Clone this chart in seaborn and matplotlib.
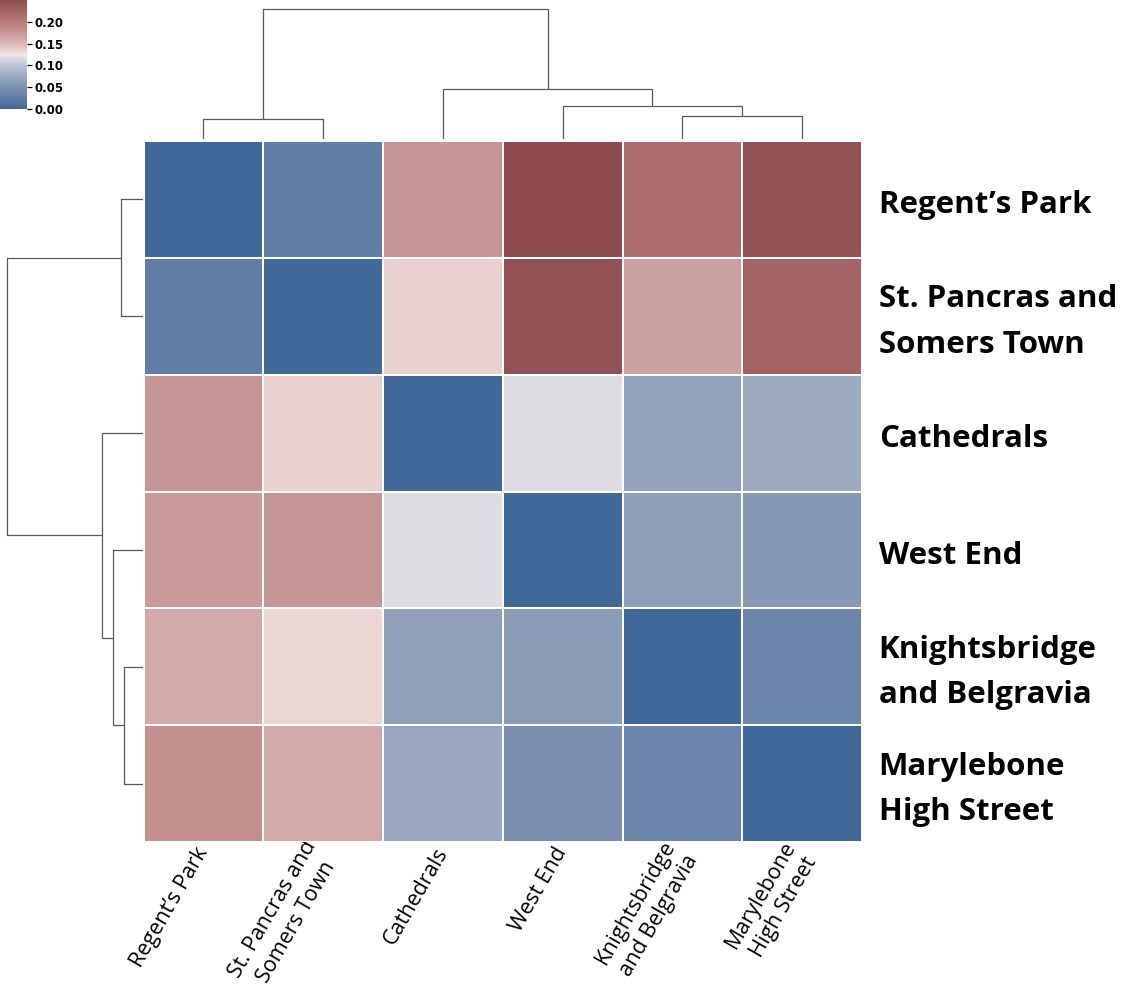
import numpy as np
import pandas as pd
import matplotlib
matplotlib.use("Agg")
import matplotlib.pyplot as plt
import seaborn as sns
import colorsys
from matplotlib.colors import ListedColormap

names = ["Regent’s Park", "St. Pancras and\nSomers Town", "Cathedrals",
         "West End", "Knightsbridge\nand Belgravia", "Marylebone\nHigh Street"]

row_regents = [0.000, 0.026, 0.177, 0.250, 0.213, 0.245]
row_pancras = [0.026, 0.000, 0.135, 0.245, 0.167, 0.224]
row_cathedrals = [0.177, 0.135, 0.000, 0.117, 0.068, 0.078]
row_westend = [0.172, 0.177, 0.117, 0.000, 0.065, 0.057]
row_knights = [0.161, 0.132, 0.066, 0.062, 0.000, 0.036]
row_marylebone = [0.182, 0.161, 0.073, 0.047, 0.036, 0.000]

# dendrogram merges: (left, right, height, size)
row_merges = [[4, 5, 0.139, 2], [0, 1, 0.165, 2], [3, 6, 0.224, 3],
              [2, 8, 0.305, 4], [7, 9, 1.000, 6]]
col_merges = [[0, 1, 0.151, 2], [4, 5, 0.176, 2], [3, 7, 0.249, 3],
              [2, 8, 0.380, 4], [6, 9, 1.000, 6]]

df = pd.DataFrame([row_regents, row_pancras, row_cathedrals, row_westend,
                   row_knights, row_marylebone],
                  index=range(6), columns=range(6))

# muted vlag colormap
vlag = plt.get_cmap("vlag")
cols = []
for i in range(256):
    u = 2 * i / 255 - 1
    tt = 0.5 + 0.5 * np.sign(u) * abs(u) ** 0.8
    r, gg, b, _ = vlag(tt)
    h, l, s = colorsys.rgb_to_hls(r, gg, b)
    s *= 0.6 + 0.25 * (1 - abs(u))
    l = l - 0.06 * l * l
    cols.append(colorsys.hls_to_rgb(h, l, s))
cmap = ListedColormap(cols)

sns.set_theme(style="white")
W, H = 1123, 1000
g = sns.clustermap(df, row_linkage=np.array(row_merges, dtype=float),
                   col_linkage=np.array(col_merges, dtype=float),
                   cmap=cmap, vmin=0, vmax=0.25, linewidths=1.2,
                   linecolor="white", figsize=(W / 100, H / 100),
                   cbar_pos=(0.0, 0.891, 0.024, 0.109),
                   tree_kws=dict(linewidths=0.9, colors="0.35"))

hx0, hx1, hy0, hy1 = 143.5, 862, 141, 842
g.ax_heatmap.set_position([hx0 / W, 1 - hy1 / H, (hx1 - hx0) / W, (hy1 - hy0) / H])
g.ax_row_dendrogram.set_position([0.0, 1 - hy1 / H, 143.4 / W, (hy1 - hy0) / H])
g.ax_col_dendrogram.set_position([hx0 / W, 1 - 138.5 / H, (hx1 - hx0) / W, 136 / H])
g.ax_cbar.set_position([0.0, 0.891, 0.024, 0.109])

ax = g.ax_heatmap
ro = g.dendrogram_row.reordered_ind
co = g.dendrogram_col.reordered_ind
# labels sit slightly below the row centres in the reference
ax.set_yticks(np.arange(6) + 0.55)
ax.set_yticklabels([names[i] for i in ro], family="Open Sans", fontweight="bold",
                   fontsize=22.5, rotation=0, va="center", ha="left",
                   linespacing=1.68, color="black")
ax.set_xticks(np.arange(6) + 0.5)
ax.set_xticklabels([names[i] for i in co], family="Open Sans", fontsize=15.5,
                   rotation=60, ha="right", va="center", rotation_mode="anchor",
                   multialignment="center", linespacing=1.35, color="black")
ax.tick_params(axis="y", length=0, pad=12)
ax.tick_params(axis="x", length=0, pad=5)
ax.set_xlabel("")
ax.set_ylabel("")

cax = g.ax_cbar
cax.set_yticks([0, 0.05, 0.10, 0.15, 0.20])
cax.set_yticklabels(["0.00", "0.05", "0.10", "0.15", "0.20"])
cax.tick_params(labelsize=8.5, length=3.5, width=0.9, pad=2, color="black")
for t in cax.get_yticklabels():
    t.set_fontweight("bold")
    t.set_color("black")

g.figure.savefig("out.png", dpi=100)
